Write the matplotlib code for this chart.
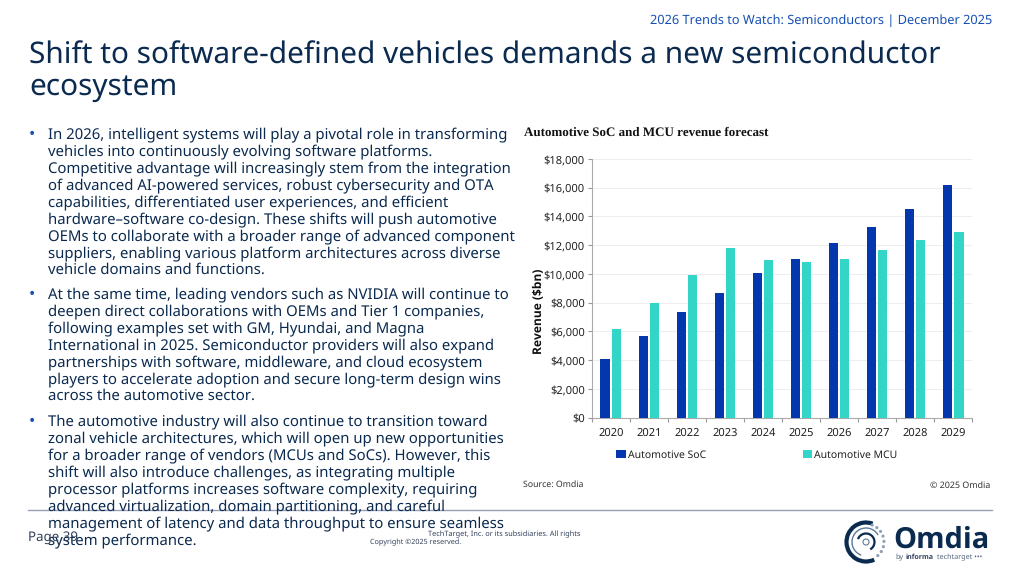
import matplotlib
matplotlib.use('Agg')
import matplotlib.pyplot as plt
from matplotlib.patches import Arc, Circle
from matplotlib.ticker import FuncFormatter
import numpy as np

plt.rcParams['font.family'] = ['Noto Sans', 'DejaVu Sans']
plt.rcParams['text.hinting'] = 'no_hinting'
plt.rcParams['text.hinting_factor'] = 1

# Chart data ($bn as labelled on the axis)
years = ['2020', '2021', '2022', '2023', '2024', '2025', '2026', '2027', '2028', '2029']
soc_revenue = [4050, 5650, 7350, 8700, 10050, 11050, 12150, 13300, 14500, 16200]
mcu_revenue = [6200, 7950, 9900, 11800, 11000, 10850, 11050, 11700, 12350, 12950]
y_ticks = [0, 2000, 4000, 6000, 8000, 10000, 12000, 14000, 16000, 18000]

# Slide text
header = '2026 Trends to Watch: Semiconductors | December 2025'
title_lines = ['Shift to software-defined vehicles demands a new semiconductor', 'ecosystem']
para_1 = ['In 2026, intelligent systems will play a pivotal role in transforming',
          'vehicles into continuously evolving software platforms.',
          'Competitive advantage will increasingly stem from the integration',
          'of advanced AI-powered services, robust cybersecurity and OTA',
          'capabilities, differentiated user experiences, and efficient',
          'hardware–software co-design. These shifts will push automotive',
          'OEMs to collaborate with a broader range of advanced component',
          'suppliers, enabling various platform architectures across diverse',
          'vehicle domains and functions.']
para_2 = ['At the same time, leading vendors such as NVIDIA will continue to',
          'deepen direct collaborations with OEMs and Tier 1 companies,',
          'following examples set with GM, Hyundai, and Magna',
          'International in 2025. Semiconductor providers will also expand',
          'partnerships with software, middleware, and cloud ecosystem',
          'players to accelerate adoption and secure long-term design wins',
          'across the automotive sector.']
para_3 = ['The automotive industry will also continue to transition toward',
          'zonal vehicle architectures, which will open up new opportunities',
          'for a broader range of vendors (MCUs and SoCs). However, this',
          'shift will also introduce challenges, as integrating multiple',
          'processor platforms increases software complexity, requiring',
          'advanced virtualization, domain partitioning, and careful',
          'management of latency and data throughput to ensure seamless',
          'system performance.']

NAVY = '#0b2a4f'
SOC_COLOR = '#0437ad'
MCU_COLOR = '#33d6c6'

fig = plt.figure(figsize=(10.24, 5.75), dpi=100)

# Full-slide axes working in pixels, for everything that is not the chart
page = fig.add_axes([0, 0, 1, 1])
page.set_xlim(0, 1024)
page.set_ylim(575, 0)
page.axis('off')

page.text(992, 24, header, ha='right', va='baseline', fontsize=9.2, color='#1450b4')
page.text(29, 64, title_lines[0], va='baseline', fontsize=21.45, color=NAVY)
page.text(29, 95, title_lines[1], va='baseline', fontsize=21.45, color=NAVY)

# Body bullets
for start_y, para in [(133, para_1), (293, para_2), (420, para_3)]:
    page.text(32, start_y + 6, '•', ha='center', va='baseline', fontsize=12, color='#1450b4')
    for i, line in enumerate(para):
        page.text(47.5, start_y + 5 + i * 17, line, va='baseline', fontsize=10.74, color=NAVY)

# Footer
page.plot([28, 992], [510, 510], color='#9a9fb8', lw=1)
page.text(28, 541, 'Page 39', va='baseline', fontsize=9.6, color='#33415c')
page.text(428, 536, 'TechTarget, Inc. or its subsidiaries. All rights', va='baseline', fontsize=5.3, color='#33415c')
page.text(370, 544, 'Copyright ©2025 reserved.', va='baseline', fontsize=5.2, color='#33415c')

# Chart captions
page.text(524, 136, 'Automotive SoC and MCU revenue forecast', va='baseline', fontsize=9.0,
          family='Liberation Serif', weight='bold', color='#111111')
page.text(523, 487, 'Source: Omdia', va='baseline', fontsize=6.3, color='#333333')
page.text(990, 488, '© 2025 Omdia', ha='right', va='baseline', fontsize=6.4, color='#333333')

# Omdia logo
cx, cy = 866, 542
page.add_patch(Arc((cx, cy), 39, 39, theta1=65, theta2=290, color=NAVY, lw=3))
page.add_patch(Arc((cx, cy), 28, 28, theta1=110, theta2=330, color='#5c7a99', lw=1))
page.add_patch(Arc((cx, cy), 17, 17, theta1=200, theta2=60, color=NAVY, lw=1.6))
page.add_patch(Circle((cx, cy), 3, fc='none', ec='#5c7a99', lw=0.8))
for ang in np.arange(-70, 50, 17):
    page.add_patch(Circle((cx + 18 * np.cos(np.radians(ang)), cy + 18 * np.sin(np.radians(ang))), 0.9, color='#8fa3b8'))
page.text(893, 548, 'Omdia', va='baseline', fontsize=21, family='Open Sans', weight='bold', color=NAVY)
page.text(895, 559, 'by', va='baseline', fontsize=5.2, color='#55677f')
page.text(905, 559, 'informa', va='baseline', fontsize=5.2, family='Open Sans', weight='bold', color='#33415c')
page.text(937, 559, 'techtarget •••', va='baseline', fontsize=5.2, color='#55677f')

# Bar chart, placed on the same pixel grid as the reference
left, right, top, bottom = 591.7, 972.3, 159, 417.7
ax = fig.add_axes([left / 1024, 1 - bottom / 575, (right - left) / 1024, (bottom - top) / 575])
x = np.arange(len(years))
ax.bar(x - 0.15, soc_revenue, 0.24, color=SOC_COLOR, label='Automotive SoC', zorder=3)
ax.bar(x + 0.15, mcu_revenue, 0.24, color=MCU_COLOR, label='Automotive MCU', zorder=3)

ax.set_xlim(-0.5, len(years) - 0.5)
ax.set_ylim(0, 18000)
ax.set_yticks(y_ticks)
ax.yaxis.set_major_formatter(FuncFormatter(lambda v, _: f'${v:,.0f}'))
ax.set_xticks(x)
ax.set_xticklabels(years)
ax.set_xticks(np.arange(-0.5, len(years)), minor=True)
ax.tick_params(axis='x', which='major', length=0, labelsize=8, pad=7, labelcolor='#222222')
ax.tick_params(axis='x', which='minor', length=3, color='#999999', width=0.8)
ax.tick_params(axis='y', length=3, color='#999999', width=0.8, labelsize=8, pad=2, labelcolor='#222222')
ax.grid(axis='y', color='#eeeeee', lw=0.8, zorder=0)
ax.spines['top'].set_visible(False)
ax.spines['right'].set_visible(False)
ax.spines['left'].set_color('#aaaaaa')
ax.spines['bottom'].set_color('#aaaaaa')

page.text(539, 311, 'Revenue ($bn)', rotation=90, ha='center', va='center', fontsize=8.4,
          family='Open Sans', weight='bold', color='#111111')

ax.legend(loc='center left', bbox_to_anchor=(607 / 1024, 1 - 455 / 575), bbox_transform=fig.transFigure,
          ncol=2, frameon=False, fontsize=7.5, handlelength=0.9, handleheight=0.9,
          handletextpad=0.2, columnspacing=9.3, labelcolor='#222222')

fig.savefig('out.png', dpi=100)
